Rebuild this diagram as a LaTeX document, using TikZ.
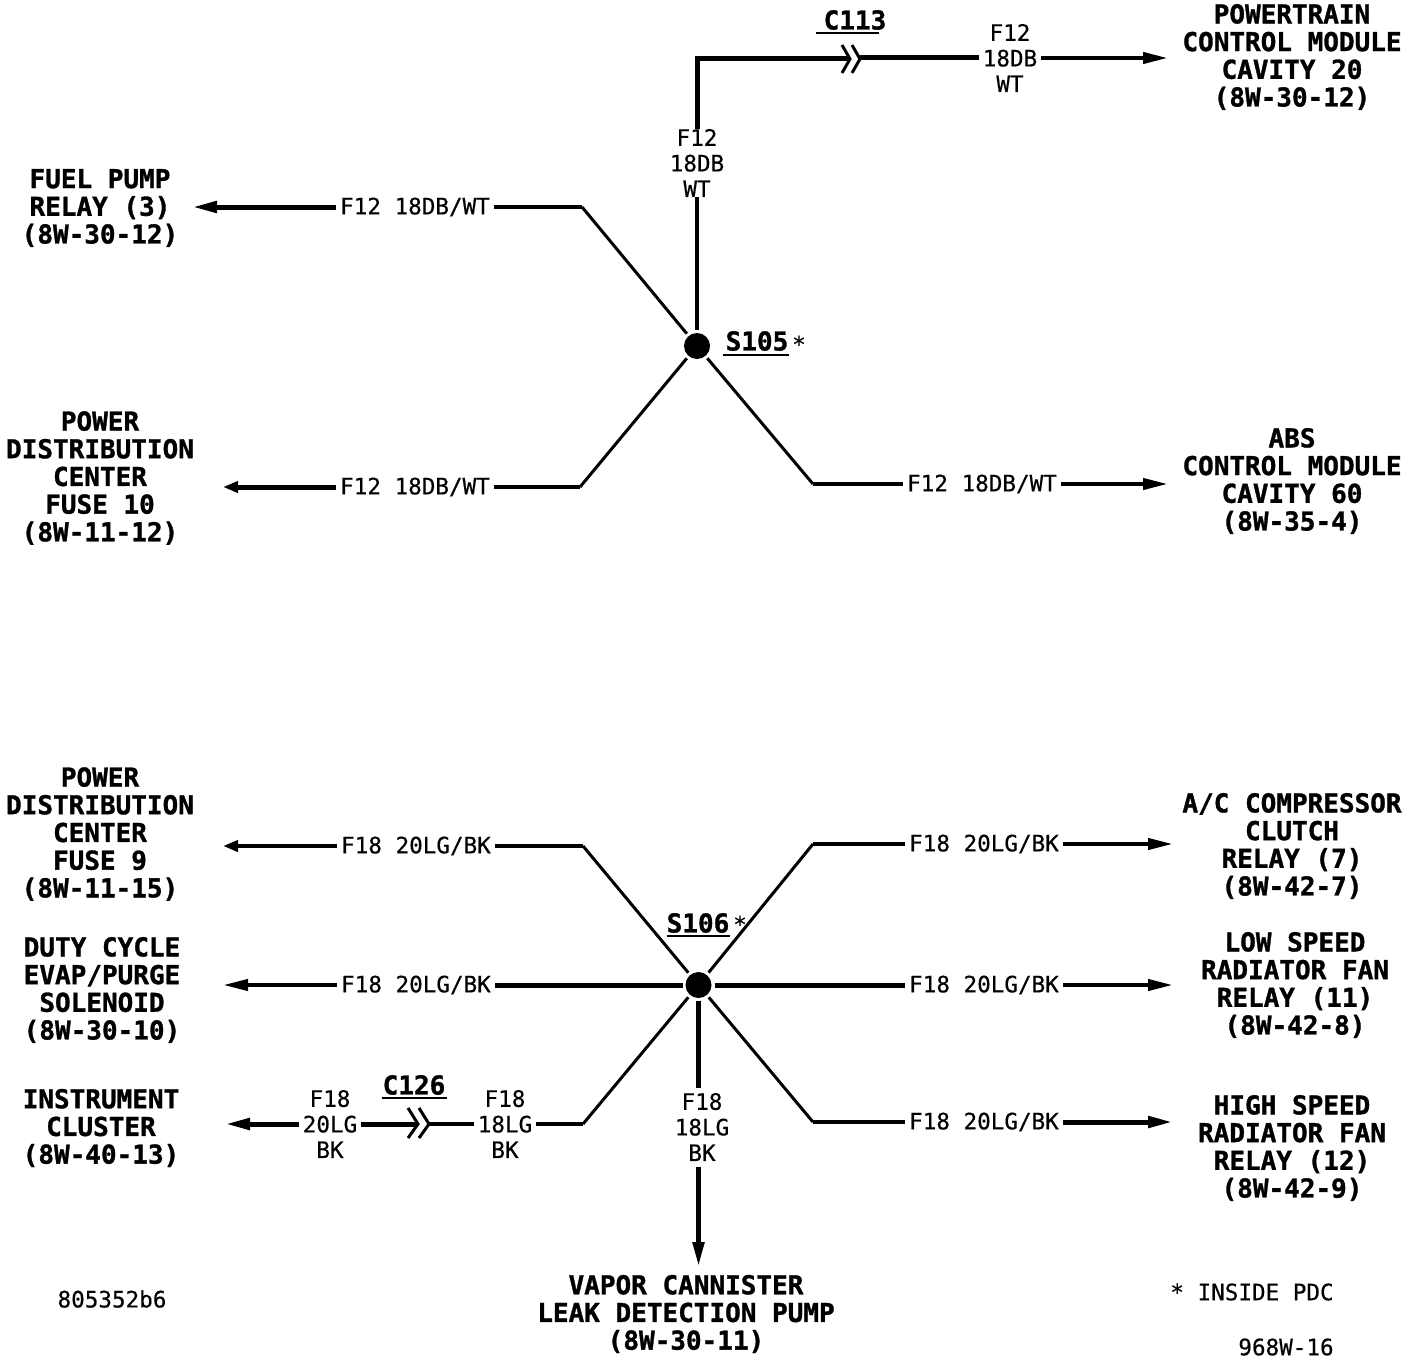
\documentclass[tikz,border=0pt]{standalone}
\usepackage{fontspec}
\usetikzlibrary{arrows.meta}
\newfontfamily\wiremono[FakeBold=0.4]{DejaVu Sans Mono}
\newfontfamily\headmono[FakeBold=1.2]{DejaVu Sans Mono Bold}
\tikzset{
 x=1pt,y=-1pt,
 dest/.style={align=center,inner sep=0pt,font=\headmono\fontsize{26}{27.7}\selectfont},
 tag/.style={inner sep=0pt,font=\headmono\fontsize{26}{28}\selectfont},
 wl/.style={inner xsep=4pt,inner ysep=0pt,align=center,font=\wiremono\fontsize{22.6}{25.6}\selectfont},
 note/.style={inner sep=0pt,font=\wiremono\fontsize{22.6}{25.6}\selectfont},
 splice/.style={circle,fill=black,minimum size=26pt,inner sep=0pt,outer sep=3pt},
 heavy/.style={line width=5pt},
 mid/.style={line width=4pt},
 thin wire/.style={line width=3pt},
 tip/.style={-{Triangle[length=25pt,width=11pt]}},
 stub/.style={-{Triangle[length=15pt,width=11pt]}},
 bar/.style={line width=1.8pt},
 chev/.style={line width=3pt,miter limit=10},
}
\begin{document}
\begin{tikzpicture}
\useasboundingbox[fill=white] (0,0) rectangle (1424,1362);
% destinations
\node[dest] (pcm) at (1292,57) {POWERTRAIN\\CONTROL MODULE\\CAVITY 20\\(8W-30-12)};
\node[dest] (fuel) at (100,208) {FUEL PUMP\\RELAY (3)\\(8W-30-12)};
\node[dest] (pdc10) at (100,478) {POWER\\DISTRIBUTION\\CENTER\\FUSE 10\\(8W-11-12)};
\node[dest] (abs) at (1292,481) {ABS\\CONTROL MODULE\\CAVITY 60\\(8W-35-4)};
\node[dest] (pdc9) at (100,834) {POWER\\DISTRIBUTION\\CENTER\\FUSE 9\\(8W-11-15)};
\node[dest] (duty) at (102,990) {DUTY CYCLE\\EVAP/PURGE\\SOLENOID\\(8W-30-10)};
\node[dest] (inst) at (101,1128) {INSTRUMENT\\CLUSTER\\(8W-40-13)};
\node[dest] (ac) at (1292,846) {A/C COMPRESSOR\\CLUTCH\\RELAY (7)\\(8W-42-7)};
\node[dest] (low) at (1295,985) {LOW SPEED\\RADIATOR FAN\\RELAY (11)\\(8W-42-8)};
\node[dest] (high) at (1292,1148) {HIGH SPEED\\RADIATOR FAN\\RELAY (12)\\(8W-42-9)};
\node[dest] (vapor) at (686,1314) {VAPOR CANNISTER\\LEAK DETECTION PUMP\\(8W-30-11)};
% splices
\node[splice] (s105) at (697,346) {};
\node[splice] (s106) at (698.5,985) {};
% tags
\node[tag] (c113) at (855,20) {C113};
\node[tag] (c126) at (414,1085) {C126};
\node[tag] (t105) at (757,341) {S105};
\node[tag] (t106) at (698,923) {S106};
\node[note] (st105) at (799,344) {*};
\node[note] (st106) at (740,924) {*};
\draw[bar] (816,33) -- (879,33);
\draw[bar] (382,1098) -- (447,1098);
\draw[bar] (723,355) -- (789,355);
\draw[bar] (667,936) -- (730,936);
% notes
\node[note] (code) at (112,1299) {805352b6};
\node[note] (inside) at (1252,1292) {* INSIDE PDC};
\node[note] (fig) at (1286,1347) {968W-16};
% wire labels
\node[wl] (l1) at (697,163) {F12\\18DB\\WT};
\node[wl] (l2) at (1010,58) {F12\\18DB\\WT};
\node[wl] (l3) at (415,207) {F12 18DB/WT};
\node[wl] (l4) at (415,487) {F12 18DB/WT};
\node[wl] (l5) at (982,484) {F12 18DB/WT};
\node[wl] (l6) at (416,846) {F18 20LG/BK};
\node[wl] (l7) at (416,985) {F18 20LG/BK};
\node[wl] (l8) at (330,1124) {F18\\20LG\\BK};
\node[wl] (l9) at (505,1124) {F18\\18LG\\BK};
\node[wl] (l10) at (702,1127) {F18\\18LG\\BK};
\node[wl] (l11) at (984,844) {F18 20LG/BK};
\node[wl] (l12) at (984,985) {F18 20LG/BK};
\node[wl] (l13) at (984,1122) {F18 20LG/BK};
% free ends and elbows
\coordinate (corner) at (697,59);
\coordinate (c113a) at (850,59);
\coordinate (c113b) at (860,58);
\coordinate (pcmtip) at (1168,58);
\coordinate (fueltip) at (192,207);
\coordinate (fuelel) at (582,207);
\coordinate (pdc10tip) at (223,487);
\coordinate (pdc10el) at (580,487);
\coordinate (absel) at (813,484);
\coordinate (abstip) at (1168,484);
\coordinate (pdc9tip) at (223,846);
\coordinate (pdc9el) at (583,846);
\coordinate (dutytip) at (223,985);
\coordinate (insttip) at (225,1124);
\coordinate (c126a) at (416,1124);
\coordinate (c126b) at (428,1124);
\coordinate (l9el) at (583,1124);
\coordinate (acel) at (813,844);
\coordinate (actip) at (1173,844);
\coordinate (lowtip) at (1173,985);
\coordinate (highel) at (813,1122);
\coordinate (hightip) at (1173,1122);
\coordinate (vdn) at (698.5,1088);
\coordinate (vup) at (698.5,1167);
\coordinate (vaportip) at (698.5,1267);
% wires
\draw[mid] (s105) -- (l1);
\draw[heavy,line join=miter] (l1) -- (corner) -- (c113a);
\draw[heavy] (c113b) -- (l2);
\draw[mid,tip] (l2) -- (pcmtip);
\draw[chev] (842,45) -- (850,59) -- (842,73);
\draw[chev] (852,45) -- (860,59) -- (852,73);
\draw[heavy,tip] (l3) -- (fueltip);
\draw[mid] (l3) -- (fuelel);
\draw[thin wire] (fuelel) -- (s105);
\draw[heavy,stub] (l4) -- (pdc10tip);
\draw[mid] (l4) -- (pdc10el);
\draw[thin wire] (pdc10el) -- (s105);
\draw[thin wire] (s105) -- (absel);
\draw[mid] (absel) -- (l5);
\draw[mid,tip] (l5) -- (abstip);
\draw[mid,stub] (l6) -- (pdc9tip);
\draw[mid] (l6) -- (pdc9el);
\draw[thin wire] (pdc9el) -- (s106);
\draw[mid,tip] (l7) -- (dutytip);
\draw[heavy] (l7) -- (s106);
\draw[heavy,tip] (l8) -- (insttip);
\draw[heavy] (l8) -- (c126a);
\draw[chev] (408,1108) -- (418,1124) -- (408,1138);
\draw[chev] (419,1108) -- (429,1124) -- (419,1138);
\draw[mid] (c126b) -- (l9);
\draw[mid] (l9) -- (l9el);
\draw[thin wire] (l9el) -- (s106);
\draw[heavy] (s106) -- (vdn);
\draw[heavy,tip] (vup) -- (vaportip);
\draw[thin wire] (s106) -- (acel);
\draw[mid] (acel) -- (l11);
\draw[mid,tip] (l11) -- (actip);
\draw[heavy] (s106) -- (l12);
\draw[mid,tip] (l12) -- (lowtip);
\draw[thin wire] (s106) -- (highel);
\draw[mid] (highel) -- (l13);
\draw[heavy,tip] (l13) -- (hightip);
\end{tikzpicture}
\end{document}
